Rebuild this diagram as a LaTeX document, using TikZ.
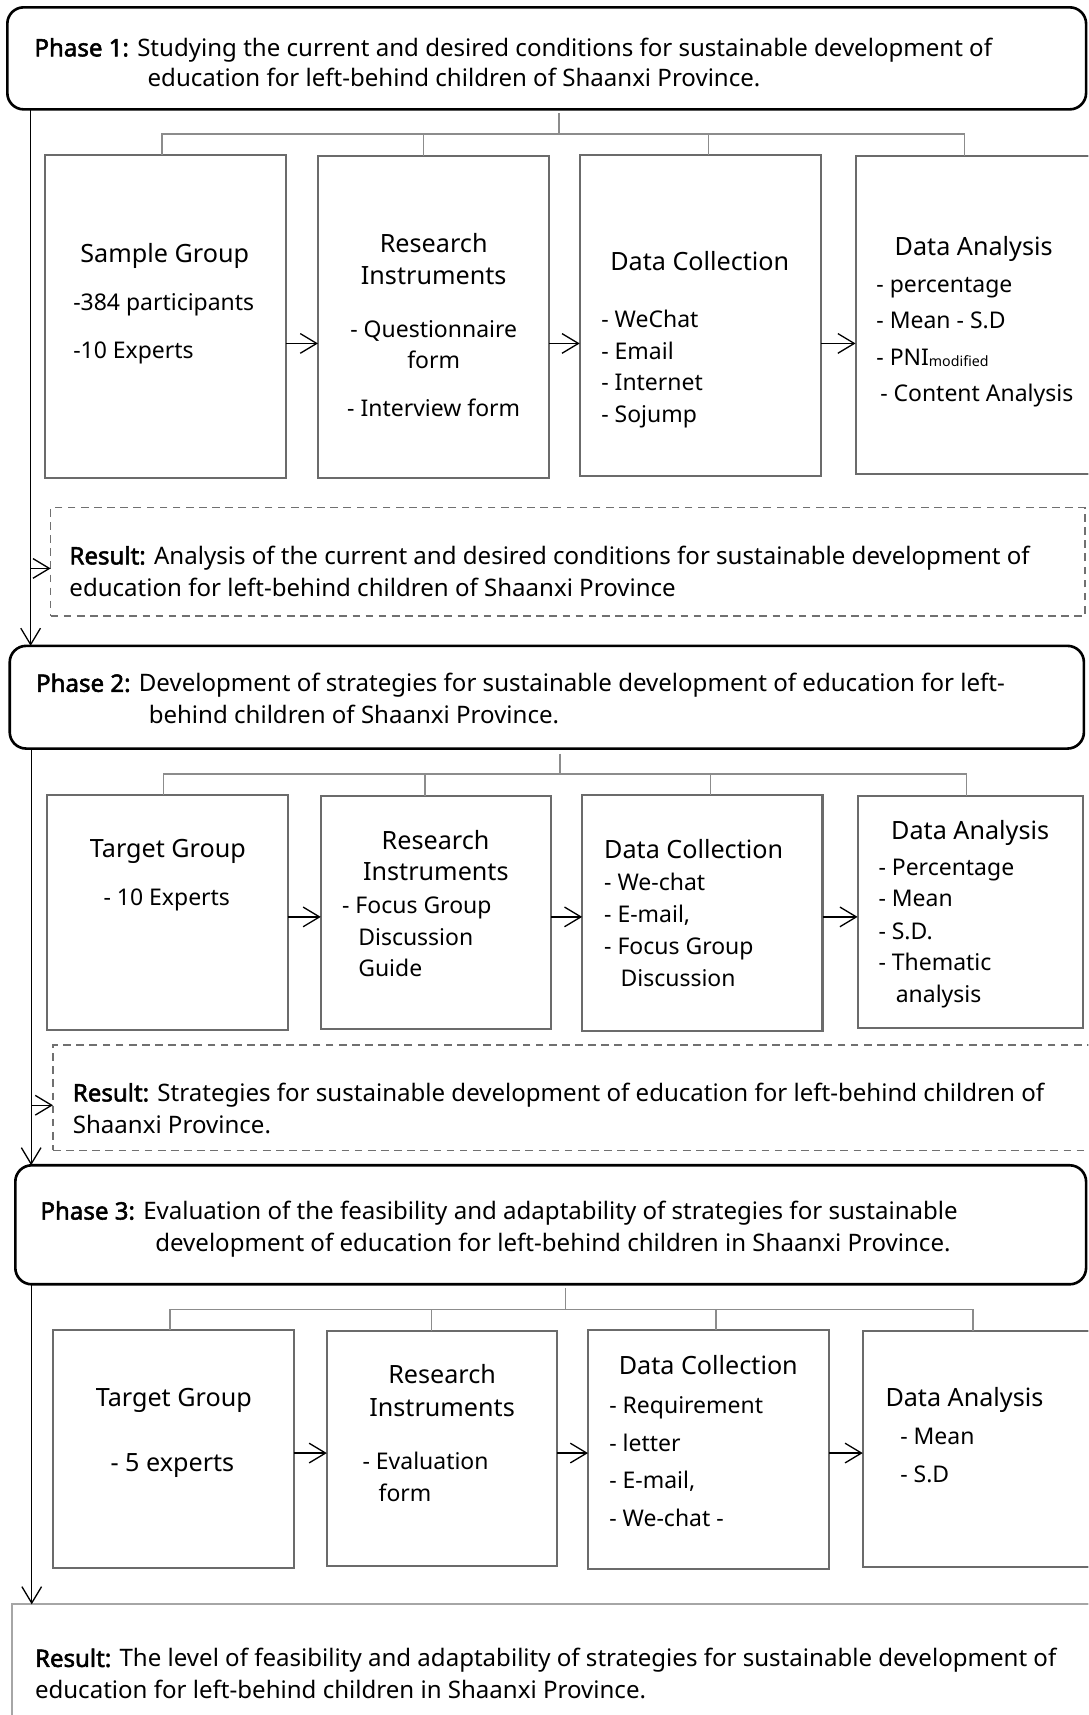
\documentclass[tikz,border=0pt]{standalone}
\usepackage{fontspec}
\setmainfont{Noto Sans}[AutoFakeBold=2.2]
\usetikzlibrary{arrows.meta}

\definecolor{boxgray}{HTML}{6B6B6B}
\definecolor{treegray}{HTML}{8C8C8C}
\definecolor{dashgray}{HTML}{707070}
\definecolor{resgray}{HTML}{A6A6A6}

\tikzset{
  phasebox/.style={draw=black, line width=2.4pt, rounded corners=15pt, inner sep=0pt, outer sep=0pt, anchor=north west},
  subbox/.style={draw=boxgray, line width=1.9pt, inner sep=0pt, outer sep=0pt, anchor=north west},
  dashbox/.style={draw=dashgray, line width=1.3pt, dash pattern=on 7pt off 5pt, inner sep=0pt, outer sep=0pt, anchor=north west},
  finalbox/.style={draw=resgray, line width=1.8pt, inner sep=0pt, outer sep=0pt, anchor=north west},
  treeline/.style={draw=treegray, line width=1.3pt},
  flowline/.style={draw=black, line width=1.2pt, -{Straight Barb[length=15pt,width=18pt]}},
  boxhead/.style={inner sep=0pt, outer sep=0pt, font=\fontsize{23}{29}\selectfont, anchor=base},
  boxitem/.style={inner sep=0pt, outer sep=0pt, font=\fontsize{21}{27}\selectfont, anchor=base west},
  boxitemc/.style={boxitem, anchor=base},
  phtxt/.style={inner sep=0pt, outer sep=0pt, font=\fontsize{22}{28}\selectfont, anchor=base west},
}

\begin{document}
\begin{tikzpicture}[x=1pt, y=-1pt]
\useasboundingbox (0,0) rectangle (995,1568);
\fill[white] (0,0) rectangle (995,1568);
\clip (0,0) rectangle (995,1568);

% ---------------- Phase 1 ----------------
\node[phasebox, minimum width=986.3pt, minimum height=93.3pt] (ph1) at (6.7,6.7) {};
\node[phtxt] (ph1a) at (31.5,51.5) {\textbf{Phase 1:} Studying the current and desired conditions for sustainable development of};
\node[phtxt] (ph1b) at (135,79.5) {education for left-behind children of Shaanxi Province.};

\node[subbox, minimum width=220.5pt, minimum height=295.7pt] (b11) at (40.8,141.7) {};
\node[subbox, minimum width=211.6pt, minimum height=294.1pt] (b12) at (290.7,142.7) {};
\node[subbox, minimum width=220.2pt, minimum height=293.3pt] (b13) at (530,141.7) {};
\node[subbox, minimum width=230pt, minimum height=290.8pt] (b14) at (782.2,142.7) {};

\coordinate (t1) at (511,122.5);
\coordinate (d11) at (148,122.5);
\coordinate (d12) at (387,122.5);
\coordinate (d13) at (648,122.5);
\coordinate (d14) at (882,122.5);
\draw[treeline] (t1 |- ph1.south) ++(0,3.6) -- (t1);
\draw[treeline] (d11 |- b11.north) -- (d11) -- (d14) -- (d14 |- b14.north);
\draw[treeline] (d12) -- (d12 |- b12.north);
\draw[treeline] (d13) -- (d13 |- b13.north);

\coordinate (ar1) at (0,314);
\draw[flowline] (b11.east |- ar1) -- (b12.west |- ar1);
\draw[flowline] (b12.east |- ar1) -- (b13.west |- ar1);
\draw[flowline] (b13.east |- ar1) -- (b14.west |- ar1);

\node[boxhead] (s11a) at (150.6,240.2) {Sample Group};
\node[boxitem] (s11b) at (67,283.5) {-384 participants};
\node[boxitem] (s11c) at (67,327.7) {-10 Experts};

\node[boxhead] (s12a) at (396.5,231) {Research};
\node[boxhead] (s12b) at (396.5,259.7) {Instruments};
\node[boxitemc] (s12c) at (396.5,308.5) {- Questionnaire};
\node[boxitemc] (s12d) at (396.5,336.8) {form};
\node[boxitemc] (s12e) at (396.5,381) {- Interview form};

\node[boxhead] (s13a) at (639.8,247.5) {Data Collection};
\node[boxitem] (s13b) at (549.8,299.3) {- WeChat};
\node[boxitem] (s13c) at (549.8,328.6) {- Email};
\node[boxitem] (s13d) at (549.8,357.3) {- Internet};
\node[boxitem] (s13e) at (549.8,386.2) {- Sojump};

\node[boxhead] (s14a) at (890.2,233.2) {Data Analysis};
\node[boxitem] (s14b) at (801.3,267.6) {- percentage};
\node[boxitem] (s14c) at (801.3,300.3) {- Mean - S.D};
\node[boxitem] (s14d) at (801.3,333.8) {- PNI\raisebox{-1.5pt}{\fontsize{13}{13}\selectfont modified}};
\node[boxitem] (s14e) at (804.8,366.7) {- Content Analysis};

% Result of phase 1
\node[dashbox, minimum width=945.7pt, minimum height=99.3pt] (r1) at (46.3,464) {};
\node[phtxt] (r1a) at (63.5,516) {\textbf{Result:} Analysis of the current and desired conditions for sustainable development of};
\node[phtxt] (r1b) at (63.5,545) {education for left-behind children of Shaanxi Province};

% ---------------- Phase 2 ----------------
\node[phasebox, minimum width=982.1pt, minimum height=93.9pt] (ph2) at (8.9,590.5) {};
\node[phtxt] (ph2a) at (33,632.5) {\textbf{Phase 2:} Development of strategies for sustainable development of education for left-};
\node[phtxt] (ph2b) at (136,661.5) {behind children of Shaanxi Province.};

\node[subbox, minimum width=219.8pt, minimum height=215pt] (b21) at (43.1,727) {};
\node[subbox, minimum width=210.7pt, minimum height=212.4pt] (b22) at (293.3,728) {};
\node[subbox, minimum width=219.7pt, minimum height=215.8pt] (b23) at (532.3,727) {};
\node[subbox, minimum width=206.1pt, minimum height=211.5pt] (b24) at (784.1,728) {};

\coordinate (t2) at (512,707.8);
\coordinate (d21) at (149.6,707.8);
\coordinate (d22) at (388.7,707.8);
\coordinate (d23) at (649.8,707.8);
\coordinate (d24) at (883.8,707.8);
\draw[treeline] (t2 |- ph2.south) ++(0,4.6) -- (t2);
\draw[treeline] (d21 |- b21.north) -- (d21) -- (d24) -- (d24 |- b24.north);
\draw[treeline] (d22) -- (d22 |- b22.north);
\draw[treeline] (d23) -- (d23 |- b23.north);

\coordinate (ar2) at (0,838.3);
\draw[flowline] (b21.east |- ar2) -- (b22.west |- ar2);
\draw[flowline] (b22.east |- ar2) -- (b23.west |- ar2);
\draw[flowline] (b23.east |- ar2) -- (b24.west |- ar2);

\node[boxhead] (s21a) at (153.5,784) {Target Group};
\node[boxitemc] (s21b) at (152.5,828.3) {- 10 Experts};

\node[boxhead] (s22a) at (398.2,776.4) {Research};
\node[boxhead] (s22b) at (398.5,805.4) {Instruments};
\node[boxitem] (s22c) at (312.8,835.2) {- Focus Group};
\node[boxitem] (s22d) at (327.6,864.2) {Discussion};
\node[boxitem] (s22e) at (327.6,893.2) {Guide};

\node[boxhead, anchor=base west] (s23a) at (552.4,785) {Data Collection};
\node[boxitem] (s23b) at (552.4,814.5) {- We-chat};
\node[boxitem] (s23c) at (552.4,843.8) {- E-mail,};
\node[boxitem] (s23d) at (552.4,872.7) {- Focus Group};
\node[boxitem] (s23e) at (567.4,902.3) {Discussion};

\node[boxhead] (s24a) at (887,767.6) {Data Analysis};
\node[boxitem] (s24b) at (803.2,800.2) {- Percentage};
\node[boxitem] (s24c) at (803.2,829.1) {- Mean};
\node[boxitem] (s24d) at (803.2,858.7) {- S.D.};
\node[boxitem] (s24e) at (803.2,887.7) {- Thematic};
\node[boxitem] (s24f) at (819,917) {analysis};

% Result of phase 2
\node[dashbox, minimum width=950pt, minimum height=96.4pt] (r2) at (48.4,955.3) {};
\node[phtxt] (r2a) at (66.6,1007) {\textbf{Result:} Strategies for sustainable development of education for left-behind children of};
\node[phtxt] (r2b) at (66.6,1036) {Shaanxi Province.};

% ---------------- Phase 3 ----------------
\node[phasebox, minimum width=979pt, minimum height=108.8pt] (ph3) at (14,1065.4) {};
\node[phtxt] (ph3a) at (37,1115) {\textbf{Phase 3:} Evaluation of the feasibility and adaptability of strategies for sustainable};
\node[phtxt] (ph3b) at (142,1144) {development of education for left-behind children in Shaanxi Province.};

\node[subbox, minimum width=220.2pt, minimum height=217.3pt] (b31) at (48.3,1216.3) {};
\node[subbox, minimum width=210.6pt, minimum height=214.6pt] (b32) at (298.8,1217.2) {};
\node[subbox, minimum width=220.5pt, minimum height=217.9pt] (b33) at (537.6,1216.3) {};
\node[subbox, minimum width=215pt, minimum height=215.8pt] (b34) at (788.8,1216.9) {};

\coordinate (t3) at (517.2,1197.4);
\coordinate (d31) at (155.3,1197.4);
\coordinate (d32) at (394.6,1197.4);
\coordinate (d33) at (654.8,1197.4);
\coordinate (d34) at (889.5,1197.4);
\draw[treeline] (t3 |- ph3.south) ++(0,3.8) -- (t3);
\draw[treeline] (d31 |- b31.north) -- (d31) -- (d34) -- (d34 |- b34.north);
\draw[treeline] (d32) -- (d32 |- b32.north);
\draw[treeline] (d33) -- (d33 |- b33.north);

\coordinate (ar3) at (0,1328.5);
\draw[flowline] (b31.east |- ar3) -- (b32.west |- ar3);
\draw[flowline] (b32.east |- ar3) -- (b33.west |- ar3);
\draw[flowline] (b33.east |- ar3) -- (b34.west |- ar3);

\node[boxhead] (s31a) at (158.9,1285.8) {Target Group};
\node[boxhead] (s31b) at (157.6,1344.9) {- 5 experts};

\node[boxhead] (s32a) at (404.2,1265) {Research};
\node[boxhead] (s32b) at (404.2,1295) {Instruments};
\node[boxitem] (s32c) at (331.5,1343.7) {- Evaluation};
\node[boxitem] (s32d) at (346.2,1372.4) {form};

\node[boxhead] (s33a) at (647.6,1256.5) {Data Collection};
\node[boxitem] (s33b) at (557.1,1292.5) {- Requirement};
\node[boxitem] (s33c) at (557.1,1327) {- letter};
\node[boxitem] (s33d) at (557.1,1361.1) {- E-mail,};
\node[boxitem] (s33e) at (557.1,1395.5) {- We-chat -};

\node[boxhead, anchor=base west] (s34a) at (809.6,1285.8) {Data Analysis};
\node[boxitem] (s34b) at (823.1,1320.5) {- Mean};
\node[boxitem] (s34c) at (823.1,1355) {- S.D};

% Final result
\node[finalbox, minimum width=1000pt, minimum height=150pt] (r3) at (11.4,1466.8) {};
\node[phtxt] (r3a) at (32,1524) {\textbf{Result:} The level of feasibility and adaptability of strategies for sustainable development of};
\node[phtxt] (r3b) at (32,1553) {education for left-behind children in Shaanxi Province.};

% ---------------- Flow between phases ----------------
\coordinate (f1) at (28,0);
\coordinate (f2) at (28.5,0);
\coordinate (f3) at (29,0);
\draw[flowline] (f1 |- ph1.south) -- (f1 |- ph2.north);
\draw[flowline] (f2 |- ph2.south) -- (f2 |- ph3.north);
\draw[flowline] (f3 |- ph3.south) -- (f3 |- r3.north);

\coordinate (a1) at (28,519.7);
\coordinate (a2) at (28.5,1010.5);
\draw[flowline] (a1) -- (a1 -| r1.west);
\draw[flowline] (a2) -- (a2 -| r2.west);
\end{tikzpicture}
\end{document}
